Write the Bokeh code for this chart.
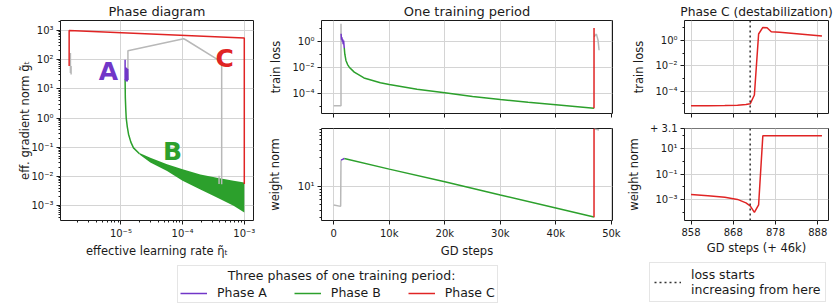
from bokeh.plotting import figure
from bokeh.layouts import row, column
from bokeh.models import (FixedTicker, CustomJSTickFormatter, Label, Span,
                          Legend, LegendItem, Range1d)
from bokeh.embed import file_html
from bokeh.resources import INLINE

# ---------------- data ----------------
# Panel 1: phase diagram (effective learning rate vs effective gradient norm)
pd_gray_xs = [[1.52e-6, 1.52e-6, 1.56e-6, 1.56e-6],
              [1.3e-5, 1.3e-5, 1.04e-4, 1.12e-4, 3.6e-4, 4.3e-4, 4.3e-4],
              [3.9e-4, 3.9e-4]]
pd_gray_ys = [[170, 35, 60, 31],
              [20, 203, 520, 480, 105, 68, 0.0054],
              [0.0105, 0.0055]]
pd_A_lr = [1.17e-5, 1.17e-5, 1.2e-5, 1.21e-5, 1.23e-5, 1.24e-5, 1.26e-5, 1.27e-5, 1.29e-5, 1.3e-5]
pd_A_g = [100, 20, 55, 18, 52, 19, 50, 18, 48, 20]
pd_B_lr = [1.17e-5, 1.18e-5, 1.2e-5, 1.22e-5, 1.27e-5, 1.33e-5, 1.45e-5, 1.6e-5, 2.0e-5]
pd_B_g = [21, 5, 2, 1, 0.5, 0.28, 0.15, 0.095, 0.06]
pd_B_band_lr = [2.0e-5, 3.0e-5, 5.6e-5, 1.0e-4, 1.94e-4, 3.6e-4, 6.7e-4, 1.0e-3]
pd_B_band_hi = [0.064, 0.044, 0.026, 0.0178, 0.0117, 0.0091, 0.0071, 0.0062]
pd_B_band_lo = [0.056, 0.030, 0.0155, 0.0071, 0.0036, 0.0019, 0.0010, 0.00058]
pd_C_lr = [1.0e-3, 1.0e-3, 1.45e-6, 1.45e-6]
pd_C_g = [0.0055, 550, 1000, 60]

# Panel 2: one training period (GD steps)
tl_gray0_step = [0, 1310, 1310, 1330]
tl_gray0_loss = [1.1e-5, 1.1e-5, 22, 3.7]
tl_A_step = [1330, 1400, 1480, 1550, 1620, 1700, 1780, 1850, 1900]
tl_A_loss = [3.7, 1.3, 2.0, 0.9, 1.4, 0.6, 1.1, 0.5, 0.3]
tl_B_step = [1900, 2000, 2200, 2500, 2800, 3700, 5450, 8400, 10000, 15000,
             20000, 25000, 30000, 35000, 40000, 46858]
tl_B_loss = [0.3, 0.1, 0.033, 0.016, 0.01, 4.2e-3, 1.5e-3, 6.3e-4, 4.7e-4, 2.0e-4,
             1.07e-4, 5.6e-5, 3.3e-5, 2.0e-5, 1.3e-5, 7.0e-6]
tl_gray1_step = [46889, 47300, 47600, 47780]
tl_gray1_loss = [2.2, 3.5, 1.2, 0.2]

wn_gray0_step = [0, 1250, 1310]
wn_gray0_norm = [4.9, 4.65, 27.5]
wn_A_step = [1310, 1600, 1900]
wn_A_norm = [27.5, 28.4, 29.3]
wn_B_step = [1900, 10000, 20000, 30000, 40000, 46858]
wn_B_norm = [29.3, 19.5, 12.0, 7.2, 4.36, 3.1]
wn_gray1_step = [46889, 47780]
wn_gray1_norm = [92, 88]

# Panel 3: phase C (steps after 46k)
pc_offset = 46000
pc_norm_offset = 3.1
pc_step = [858, 862, 866, 869, 871, 872, 873, 874, 875, 876, 877, 879, 883, 889]
pc_loss = [7.0e-6, 7.1e-6, 7.4e-6, 7.9e-6, 8.8e-6, 1.0e-5, 5.0e-5, 3.2, 10.5, 10.0,
           4.8, 4.3, 3.3, 2.2]
pc_norm = [2.6e-3, 2.15e-3, 1.6e-3, 1.1e-3, 6.0e-4, 3.5e-4, 1.1e-4, 4.1e-4, 89, 89,
           89, 89, 89, 89]
pc_loss_start = 872

steps_ticks = [0, 10000, 20000, 30000, 40000, 50000]
pc_ticks = [858, 868, 878, 888]

# ---------------- style ----------------
PURPLE = "#7136c8"
GREEN = "#2ca02c"
RED = "#e02424"
GRAY = "#b8b8b8"
INK = "#1a1a1a"
FONT = "DejaVu Sans"
LW = 1.5
DOT = "2 3"

POW = """
const sup = {'-':'\u207b','0':'\u2070','1':'\u00b9','2':'\u00b2','3':'\u00b3','4':'\u2074',
             '5':'\u2075','6':'\u2076','7':'\u2077','8':'\u2078','9':'\u2079'};
const e = Math.round(Math.log10(tick));
return '10' + String(e).split('').map(c => sup[c]).join('');
"""


def dec_ticks(lo, hi, step=1, extra=()):
    major = [10.0 ** e for e in range(lo, hi + 1, step)] + list(extra)
    if step == 1:
        minor = [k * 10.0 ** e for e in range(lo - 1, hi + 1) for k in range(2, 10)]
    else:
        minor = [10.0 ** e for e in range(lo - 1, hi + 2) if (e - lo) % step]
    return FixedTicker(ticks=major, minor_ticks=minor)


def mkfig(w, h, xr, yr, xtype, ytype, b, title=None):
    kw = dict(width=w, height=h, x_range=Range1d(*xr), y_range=Range1d(*yr),
              x_axis_type=xtype, y_axis_type=ytype, output_backend="svg",
              toolbar_location=None, min_border_left=b[0], min_border_right=b[1],
              min_border_top=b[2], min_border_bottom=b[3])
    if title:
        kw["title"] = title
    p = figure(**kw)
    p.outline_line_color = INK
    p.outline_line_width = 1
    for ax in p.axis:
        ax.axis_line_color = None
        ax.major_tick_line_color = INK
        ax.minor_tick_line_color = INK
        ax.major_tick_in = 0
        ax.major_tick_out = 4
        ax.minor_tick_in = 0
        ax.minor_tick_out = 2
        ax.major_label_text_font = FONT
        ax.major_label_text_font_size = "10px"
        ax.major_label_text_color = INK
        ax.major_label_standoff = 3
        ax.axis_label_text_font = FONT
        ax.axis_label_text_font_size = "11.5px"
        ax.axis_label_text_font_style = "normal"
        ax.axis_label_text_color = INK
    p.xaxis.axis_label_standoff = 2
    p.yaxis.axis_label_standoff = 6
    p.grid.grid_line_color = "#d4d4d4"
    p.grid.grid_line_width = 1
    if title:
        p.title.text_font = FONT
        p.title.text_font_size = "13px"
        p.title.text_font_style = "normal"
        p.title.text_color = INK
        p.title.align = "center"
        p.title.standoff = 3
    return p


def set_ticks(p, xt=None, yt=None, xf=None, yf=None):
    if xt is not None:
        p.xaxis.ticker = xt
        p.xgrid.ticker = xt
    if yt is not None:
        p.yaxis.ticker = yt
        p.ygrid.ticker = yt
    if xf is not None:
        p.xaxis.formatter = xf
    if yf is not None:
        p.yaxis.formatter = yf


def hide_x_labels(p):
    p.xaxis.major_label_text_color = None
    p.xaxis.major_label_text_font_size = "1px"
    p.xaxis.major_label_standoff = 0
    p.xaxis.formatter = CustomJSTickFormatter(code="return '';")


kfmt = CustomJSTickFormatter(code="return tick == 0 ? '0' : (tick / 1000) + 'k';")

TOP_H = 260   # height of the three panel columns
BOT = 40      # border under the lower frames (tick labels + axis label)

# ---------------- panel 1 ----------------
f1 = mkfig(264, TOP_H, (1.05e-6, 1.41e-3), (3.1e-4, 2190), "log", "log",
           (60, 11, 19, BOT), "Phase diagram")
set_ticks(f1, dec_ticks(-5, -3), dec_ticks(-3, 3),
          CustomJSTickFormatter(code=POW), CustomJSTickFormatter(code=POW))
f1.xaxis.axis_label = "effective learning rate \u03b7\u0303\u209c"
f1.yaxis.axis_label = "eff. gradient norm g\u0303\u209c"
f1.yaxis.axis_label_standoff = -4
f1.varea(x=pd_B_band_lr, y1=pd_B_band_lo, y2=pd_B_band_hi, fill_color=GREEN)
f1.line(pd_B_lr, pd_B_g, line_color=GREEN, line_width=LW)
f1.multi_line(pd_gray_xs, pd_gray_ys, line_color=GRAY, line_width=LW)
f1.line(pd_A_lr, pd_A_g, line_color=PURPLE, line_width=LW)
f1.line(pd_C_lr, pd_C_g, line_color=RED, line_width=LW)
for txt, x, y, c in (("A", 6.3e-6, 40, PURPLE), ("B", 6.9e-5, 0.071, GREEN),
                     ("C", 4.8e-4, 107, RED)):
    f1.add_layout(Label(x=x, y=y, text=txt, text_color=c, text_font=FONT,
                        text_font_size="25px", text_font_style="bold",
                        text_align="center", text_baseline="middle"))

# ---------------- panel 2 ----------------
xr2 = (-2200, 50200)
f2a = mkfig(360, 120, xr2, (2.75e-6, 39), "linear", "log", (53, 12, 20, 7),
            "One training period")
set_ticks(f2a, FixedTicker(ticks=steps_ticks), dec_ticks(-4, 0, 2), None,
          CustomJSTickFormatter(code=POW))
hide_x_labels(f2a)
f2a.yaxis.axis_label = "train loss"
f2a.line(tl_gray0_step, tl_gray0_loss, line_color=GRAY, line_width=LW)
f2a.line(tl_gray1_step, tl_gray1_loss, line_color=GRAY, line_width=LW)
f2a.line(tl_B_step, tl_B_loss, line_color=GREEN, line_width=LW)
f2a.line(tl_A_step, tl_A_loss, line_color=PURPLE, line_width=LW)
f2a.line([pc_offset + s for s in pc_step], pc_loss, line_color=RED, line_width=LW)

f2b = mkfig(360, TOP_H - 120, xr2, (2.7, 93), "linear", "log", (53, 12, 8, BOT))
set_ticks(f2b, FixedTicker(ticks=steps_ticks), dec_ticks(1, 1), kfmt,
          CustomJSTickFormatter(code=POW))
f2b.xaxis.axis_label = "GD steps"
f2b.yaxis.axis_label = "weight norm"
f2b.yaxis.axis_label_standoff = 13
f2b.line(wn_gray0_step, wn_gray0_norm, line_color=GRAY, line_width=LW)
f2b.line(wn_gray1_step, wn_gray1_norm, line_color=GRAY, line_width=LW)
f2b.line(wn_B_step, wn_B_norm, line_color=GREEN, line_width=LW)
f2b.line(wn_A_step, wn_A_norm, line_color=PURPLE, line_width=LW)
f2b.line([pc_offset + s for s in pc_step], [pc_norm_offset + v for v in pc_norm],
         line_color=RED, line_width=LW)

# ---------------- panel 3 ----------------
xr3 = (856.45, 890.55)
f3a = mkfig(211, 120, xr3, (1.74e-6, 37), "linear", "log", (56, 7, 20, 7),
            "Phase C (destabilization)")
f3a.title.text_font_size = "12.3px"
set_ticks(f3a, FixedTicker(ticks=pc_ticks), dec_ticks(-4, 0, 2), None,
          CustomJSTickFormatter(code=POW))
hide_x_labels(f3a)
f3a.yaxis.axis_label = "train loss"
f3a.line(pc_step, pc_loss, line_color=RED, line_width=LW)

yr3b = (2.6e-5, 324)
f3b = mkfig(211, TOP_H - 120, xr3, yr3b, "linear", "log", (56, 7, 8, BOT))
# the offset note "+ 3.1" sits as a label at the top of the axis
set_ticks(f3b, FixedTicker(ticks=pc_ticks), dec_ticks(-3, 1, 2, extra=[yr3b[1] * 0.99]),
          None,
          CustomJSTickFormatter(code="if (tick > 100) return '+ %s';" % pc_norm_offset + POW))
f3b.xaxis.axis_label = "GD steps (+ 46k)"
f3b.yaxis.axis_label = "weight norm"
f3b.line(pc_step, pc_norm, line_color=RED, line_width=LW)

for f in (f3a, f3b):
    f.add_layout(Span(location=pc_loss_start, dimension="height", line_color="#333333",
                      line_width=1.5, line_dash=DOT))

# ---------------- legends ----------------
lf = figure(width=835, height=304 - TOP_H, x_range=Range1d(0, 1), y_range=Range1d(0, 1),
            x_axis_location=None, y_axis_location=None, output_backend="svg",
            toolbar_location=None, min_border=0)
lf.grid.visible = False
lf.outline_line_color = None
# legend proxies: the phase curves themselves, which lie outside this empty frame
rA = lf.line(tl_A_step, tl_A_loss, line_color=PURPLE, line_width=LW)
rB = lf.line(tl_B_step, tl_B_loss, line_color=GREEN, line_width=LW)
rC = lf.line(pc_step, pc_loss, line_color=RED, line_width=LW)
rD = lf.line([pc_loss_start, pc_loss_start], [2, 3], line_color="#333333",
             line_width=1.5, line_dash=DOT)


def style_legend(lg):
    lg.label_text_font = FONT
    lg.label_text_font_size = "12.5px"
    lg.label_text_color = INK
    lg.title_text_font = FONT
    lg.title_text_font_size = "12.5px"
    lg.title_text_font_style = "normal"
    lg.title_text_color = INK
    lg.glyph_width = 27
    lg.glyph_height = 14
    lg.label_height = 14
    lg.label_standoff = 10
    lg.padding = 4
    lg.margin = 0
    lg.border_line_color = "#cccccc"
    lg.border_line_width = 1
    lg.background_fill_alpha = 0.8


leg1 = Legend(items=[LegendItem(label="Phase A", renderers=[rA]),
                     LegendItem(label="Phase B", renderers=[rB]),
                     LegendItem(label="Phase C", renderers=[rC])],
              orientation="horizontal", location=(177, 1),
              title="            Three phases of one training period:")
style_legend(leg1)
leg1.padding = 2
leg1.spacing = 27
leg1.title_standoff = 2
lf.add_layout(leg1)

leg2 = Legend(items=[LegendItem(label="loss starts\nincreasing from here", renderers=[rD])],
              location=(649, 2))
style_legend(leg2)
leg2.label_height = 30
lf.add_layout(leg2)

top = row(f1, column(f2a, f2b), column(f3a, f3b))
p = column(top, lf, styles={"position": "absolute", "left": "0px", "top": "0px"})

open("out.html", "w").write(file_html(p, INLINE))
